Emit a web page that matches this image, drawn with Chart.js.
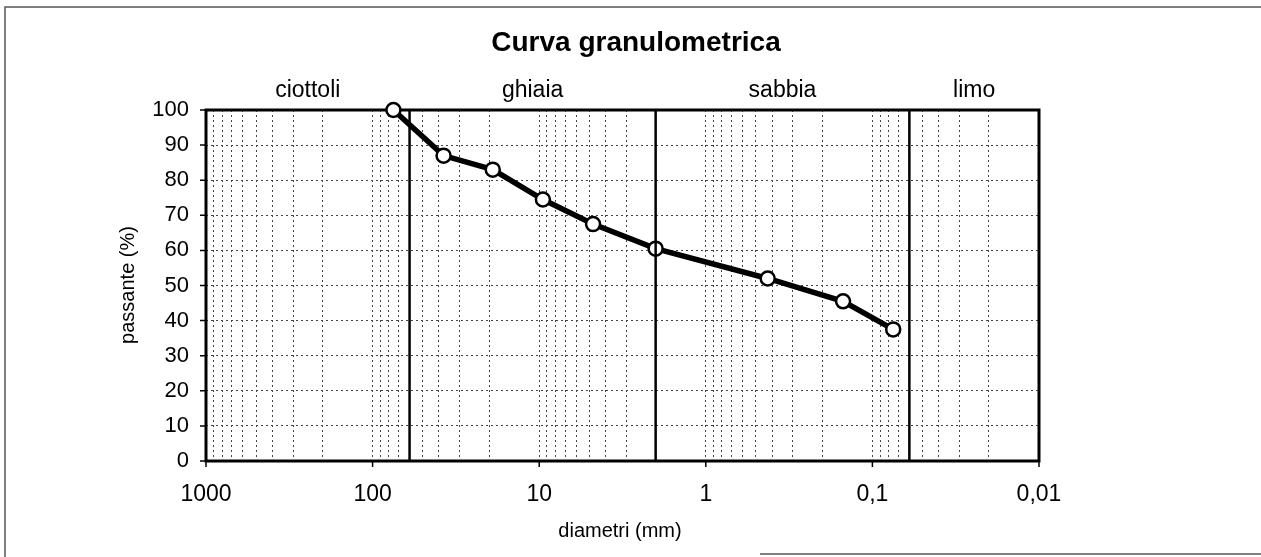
<!DOCTYPE html>
<html lang="it">
<head>
    <meta charset="UTF-8">
    <title>Curva granulometrica</title>
    <script src="https://cdn.jsdelivr.net/npm/chart.js"></script>
    <style>
        body { margin: 0; background: #fff; }
    </style>
</head>
<body>

    <canvas id="grafico" width="1261" height="557"></canvas>

    <script>
        // Diametri dei setacci (mm) e passante (%)
        const diametri = [75, 37.5, 19, 9.5, 4.75, 2, 0.425, 0.15, 0.075];
        const passante = [100, 87, 83, 74.5, 67.5, 60.5, 52, 45.5, 37.5];

        // Limiti fra le classi granulometriche (mm)
        const limiti = [60, 2, 0.06];
        const classi = ["ciottoli", "ghiaia", "sabbia", "limo"];

        // Etichette degli assi
        const tickX = [1000, 100, 10, 1, 0.1, 0.01];
        const tickY = [0, 10, 20, 30, 40, 50, 60, 70, 80, 90, 100];

        const FONT = "'Liberation Sans', Arial, sans-serif";

        function formatta(v) {
            return String(v).replace(".", ",");
        }

        // tutte le suddivisioni logaritmiche 1..9 x 10^k per la griglia
        function ticksLog() {
            let t = [];
            for (let k = -2; k <= 2; k++) {
                for (let m = 1; m <= 9; m++) {
                    t.push({ value: parseFloat((m * Math.pow(10, k)).toPrecision(3)) });
                }
            }
            t.push({ value: 1000 });
            return t;
        }

        const decorazioni = {
            id: "decorazioni",
            beforeDraw(chart) {
                const ctx = chart.ctx;
                ctx.save();
                // cornice del foglio
                ctx.strokeStyle = "#555";
                ctx.lineWidth = 1.5;
                ctx.beginPath();
                ctx.moveTo(5, 557); ctx.lineTo(5, 7); ctx.lineTo(1261, 7);
                ctx.moveTo(760, 554); ctx.lineTo(1261, 554);
                ctx.stroke();
                ctx.restore();
            },
            beforeDatasetsDraw(chart) {
                const ctx = chart.ctx;
                const a = chart.chartArea;
                const sx = chart.scales.x, sy = chart.scales.y;
                ctx.save();
                ctx.strokeStyle = "#000";
                ctx.lineWidth = 3;
                ctx.strokeRect(a.left, a.top, a.right - a.left, a.bottom - a.top);

                // tacche principali
                ctx.lineWidth = 1.5;
                ctx.beginPath();
                tickY.forEach(v => {
                    let y = sy.getPixelForValue(v);
                    ctx.moveTo(a.left - 6, y); ctx.lineTo(a.left, y);
                });
                tickX.forEach(v => {
                    let x = sx.getPixelForValue(v);
                    ctx.moveTo(x, a.bottom); ctx.lineTo(x, a.bottom + 6);
                });
                ctx.stroke();
                ctx.restore();
            },
            afterDraw(chart) {
                const ctx = chart.ctx;
                const a = chart.chartArea;
                const sx = chart.scales.x;
                ctx.save();
                ctx.fillStyle = "#000";
                ctx.textAlign = "center";
                ctx.textBaseline = "middle";

                ctx.font = "bold 28px " + FONT;
                ctx.fillText("Curva granulometrica", 636, 43);

                // nomi delle classi sopra il grafico
                ctx.font = "23px " + FONT;
                let bordi = [a.left].concat(limiti.map(l => sx.getPixelForValue(l)), [a.right]);
                classi.forEach((c, i) => {
                    ctx.fillText(c, (bordi[i] + bordi[i + 1]) / 2, 91);
                });

                ctx.font = "20px " + FONT;
                ctx.fillText("diametri (mm)", 620, 531);

                ctx.translate(128, 285);
                ctx.rotate(-Math.PI / 2);
                ctx.fillText("passante (%)", 0, 0);
                ctx.restore();
            }
        };

        let datasets = limiti.map(l => ({
            data: [{ x: l, y: 0 }, { x: l, y: 100 }],
            borderColor: "#000",
            borderWidth: 2.5,
            pointRadius: 0
        }));

        datasets.push({
            data: diametri.map((d, i) => ({ x: d, y: passante[i] })),
            borderColor: "#000",
            borderWidth: 5.5,
            pointRadius: 7,
            pointBackgroundColor: "#fff",
            pointBorderColor: "#000",
            pointBorderWidth: 2.5,
            clip: false
        });

        new Chart(document.getElementById("grafico"), {
            type: "line",
            data: { datasets: datasets },
            plugins: [decorazioni],
            options: {
                responsive: false,
                animation: false,
                layout: { padding: { top: 110, right: 222, left: 0, bottom: 0 } },
                plugins: { legend: { display: false }, tooltip: { enabled: false } },
                scales: {
                    x: {
                        type: "logarithmic",
                        reverse: true,
                        min: 0.01,
                        max: 1000,
                        afterBuildTicks: scale => { scale.ticks = ticksLog(); },
                        afterFit: scale => { scale.height = 96; },
                        grid: { color: "#444", lineWidth: 1, drawTicks: false },
                        border: { display: false, dash: [2, 3] },
                        ticks: {
                            autoSkip: false,
                            maxRotation: 0,
                            padding: 20,
                            color: "#000",
                            font: { family: FONT, size: 23 },
                            callback: v => tickX.includes(v) ? formatta(v) : ""
                        }
                    },
                    y: {
                        min: 0,
                        max: 100,
                        afterFit: scale => { scale.width = 206; },
                        grid: { color: "#444", lineWidth: 1, drawTicks: false },
                        border: { display: false, dash: [2, 3] },
                        ticks: {
                            stepSize: 10,
                            padding: 17,
                            color: "#000",
                            font: { family: FONT, size: 22 }
                        }
                    }
                }
            }
        });
    </script>

</body>
</html>
